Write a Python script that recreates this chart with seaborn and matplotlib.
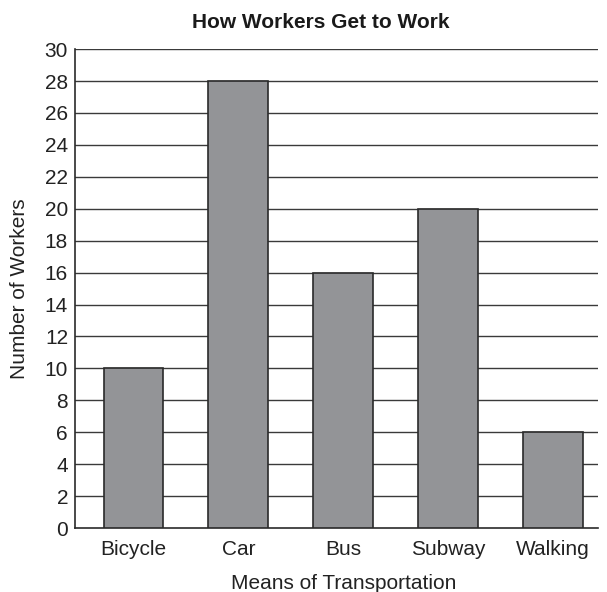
import matplotlib
matplotlib.use("Agg")
import matplotlib.pyplot as plt
import seaborn as sns
import pandas as pd

categories = ["Bicycle", "Car", "Bus", "Subway", "Walking"]
workers = [10, 28, 16, 20, 6]
y_ticks = list(range(0, 31, 2))

sns.set_style("white")
plt.rcParams["font.family"] = ["Liberation Sans", "DejaVu Sans"]

df = pd.DataFrame({"mode": categories, "workers": workers})

fig = plt.figure(figsize=(6.07, 5.92), dpi=100)
ax = fig.add_axes([0.1236, 0.108, 0.862, 0.809])

sns.barplot(data=df, x="mode", y="workers", color="#939497", width=0.57,
            edgecolor="#2a2a2a", linewidth=1.2, saturation=1, ax=ax, zorder=3)

ax.set_ylim(0, 30)
ax.set_xlim(-0.557, 4.43)
ax.set_yticks(y_ticks)
ax.set_yticklabels([str(v) for v in y_ticks], fontsize=15, color="#222222")
ax.tick_params(axis="x", labelsize=15, colors="#222222", length=0, pad=8.6)
ax.tick_params(axis="y", length=0, pad=5)
for v in y_ticks[1:]:
    ax.axhline(v, color="#3a3a3a", linewidth=1.0, zorder=1)

for side in ["top", "right"]:
    ax.spines[side].set_visible(False)
ax.spines["left"].set_color("#2a2a2a")
ax.spines["left"].set_linewidth(1.2)
ax.spines["bottom"].set_color("#2a2a2a")
ax.spines["bottom"].set_linewidth(1.2)

ax.set_xlabel("Means of Transportation", fontsize=15, color="#222222", labelpad=12)
ax.xaxis.set_label_coords(0.513, -0.095)
ax.set_ylabel("Number of Workers", fontsize=15, color="#222222", labelpad=11.5)
fig.text(321 / 607, 1 - 28 / 592, "How Workers Get to Work", fontsize=15,
         fontweight="bold", color="#1a1a1a", ha="center", va="baseline")

fig.savefig("out.png", dpi=100)
